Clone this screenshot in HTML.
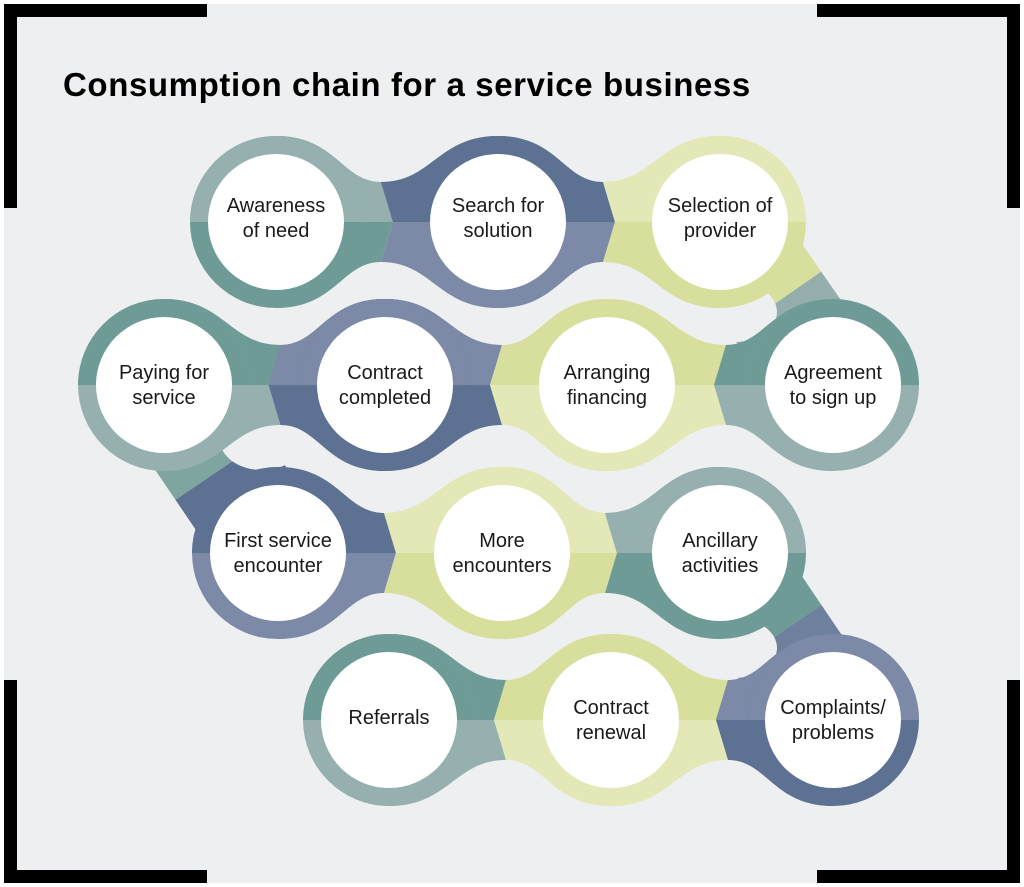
<!DOCTYPE html>
<html><head><meta charset="utf-8">
<style>
html,body{margin:0;padding:0;}
body{width:1024px;height:887px;background:#fff;position:relative;overflow:hidden;font-family:"Liberation Sans",sans-serif;}
#bg{position:absolute;left:4px;top:4px;width:1016px;height:879px;background:#eeeff1;}
.br{position:absolute;background:#000;}
svg{position:absolute;left:0;top:0;}
.t{position:absolute;width:150px;margin-left:-75px;text-align:center;font-size:20px;line-height:25px;color:#1a1a1a;}
h1{position:absolute;left:63px;top:66px;margin:0;font-size:33px;font-weight:bold;color:#000;letter-spacing:0.6px;}
</style></head><body>
<div id="bg"></div>
<div class="br" style="left:4px;top:4px;width:203px;height:13px"></div>
<div class="br" style="left:4px;top:4px;width:13px;height:204px"></div>
<div class="br" style="left:817px;top:4px;width:203px;height:13px"></div>
<div class="br" style="left:1007px;top:4px;width:13px;height:204px"></div>
<div class="br" style="left:4px;top:870px;width:203px;height:13px"></div>
<div class="br" style="left:4px;top:680px;width:13px;height:203px"></div>
<div class="br" style="left:817px;top:870px;width:203px;height:13px"></div>
<div class="br" style="left:1007px;top:680px;width:13px;height:203px"></div>
<h1>Consumption chain for a service business</h1>
<svg id="s" width="1024" height="887" viewBox="0 0 1024 887"></svg>
<div class="t" style="left:276px;top:194px">Awareness<br>of need</div>
<div class="t" style="left:498px;top:194px">Search for<br>solution</div>
<div class="t" style="left:720px;top:194px">Selection of<br>provider</div>
<div class="t" style="left:164px;top:361px">Paying for<br>service</div>
<div class="t" style="left:385px;top:361px">Contract<br>completed</div>
<div class="t" style="left:607px;top:361px">Arranging<br>financing</div>
<div class="t" style="left:833px;top:361px">Agreement<br>to sign up</div>
<div class="t" style="left:278px;top:529px">First service<br>encounter</div>
<div class="t" style="left:502px;top:529px">More<br>encounters</div>
<div class="t" style="left:720px;top:529px">Ancillary<br>activities</div>
<div class="t" style="left:389px;top:706px">Referrals</div>
<div class="t" style="left:611px;top:696px">Contract<br>renewal</div>
<div class="t" style="left:833px;top:696px">Complaints/<br>problems</div>
<script>
var C={t:["#95b0ae","#6f9b97"],n:["#5d7192","#7c8aa7"],l:["#e3e8b6","#d8df9c"]};
var rows=[[222,[[276,"t"],[498,"n"],[720,"l"]]],[385,[[164,"t"],[385,"n"],[607,"l"],[833,"t"]]],[553,[[278,"n"],[502,"l"],[720,"t"]]],[720,[[389,"t"],[611,"l"],[833,"n"]]]];
function col(k,i){var c=C[k];return i%2?[c[1],c[0]]:c;}
var s="<defs>";
rows.forEach(function(r,i){s+='<clipPath id="c'+i+'"><rect x="0" y="0" width="1024" height="'+r[0]+'"/></clipPath>';});
s+="</defs>";
function ln(a,b,c,d,cl){return '<line x1="'+a+'" y1="'+b+'" x2="'+c+'" y2="'+d+'" stroke="'+cl+'" stroke-width="110"/>';}
s+=ln(720,222,776,303,C.l[1])+ln(776,303,833,385,"#93aeac");
s+=ln(164,385,221,469,"#7fa5a1")+ln(221,469,278,553,C.n[0]);
s+=ln(720,553,776,636,C.t[1])+ln(776,636,833,720,"#6f7f9e");
s+='<ellipse cx="735" cy="312" rx="42" ry="30" fill="#eeeff1"/>';
s+='<ellipse cx="262" cy="440" rx="42" ry="30" fill="#eeeff1"/>';
s+='<ellipse cx="735" cy="648" rx="42" ry="30" fill="#eeeff1"/>';
function piece(d,c,i){return '<path d="'+d+'" fill="'+c[1]+'"/><path d="'+d+'" fill="'+c[0]+'" clip-path="url(#c'+i+')"/>';}
rows.forEach(function(r,i){
  var y=r[0],n=r[1],sg=i%2?-1:1;
  for(var k=0;k<n.length-1;k++){
    var x1=n[k][0],x2=n[k+1][0],m=(x1+x2)/2,h=40,a=m-6*sg,b=m+6*sg;
    var L="M"+x1+","+(y-86)+" C"+(x1+60)+","+(y-86)+" "+(m-45)+","+(y-h)+" "+a+","+(y-h)+" L"+b+","+y+" L"+a+","+(y+h)+" C"+(m-45)+","+(y+h)+" "+(x1+60)+","+(y+86)+" "+x1+","+(y+86)+" Z";
    var R="M"+a+","+(y-h)+" C"+(m+45)+","+(y-h)+" "+(x2-60)+","+(y-86)+" "+x2+","+(y-86)+" L"+x2+","+(y+86)+" C"+(x2-60)+","+(y+86)+" "+(m+45)+","+(y+h)+" "+a+","+(y+h)+" L"+b+","+y+" Z";
    s+=piece(L,col(n[k][1],i),i)+piece(R,col(n[k+1][1],i),i);
  }
});
rows.forEach(function(r,i){
  var y=r[0];
  r[1].forEach(function(nd){
    var x=nd[0],c=col(nd[1],i);
    s+='<circle cx="'+x+'" cy="'+y+'" r="86" fill="'+c[1]+'"/>';
    s+='<path d="M'+(x-86)+','+y+' A86,86 0 0 1 '+(x+86)+','+y+' Z" fill="'+c[0]+'"/>';
  });
});
rows.forEach(function(r){r[1].forEach(function(nd){s+='<circle cx="'+nd[0]+'" cy="'+r[0]+'" r="68" fill="#fff"/>';});});
document.getElementById("s").innerHTML=s;
</script>
</body></html>
